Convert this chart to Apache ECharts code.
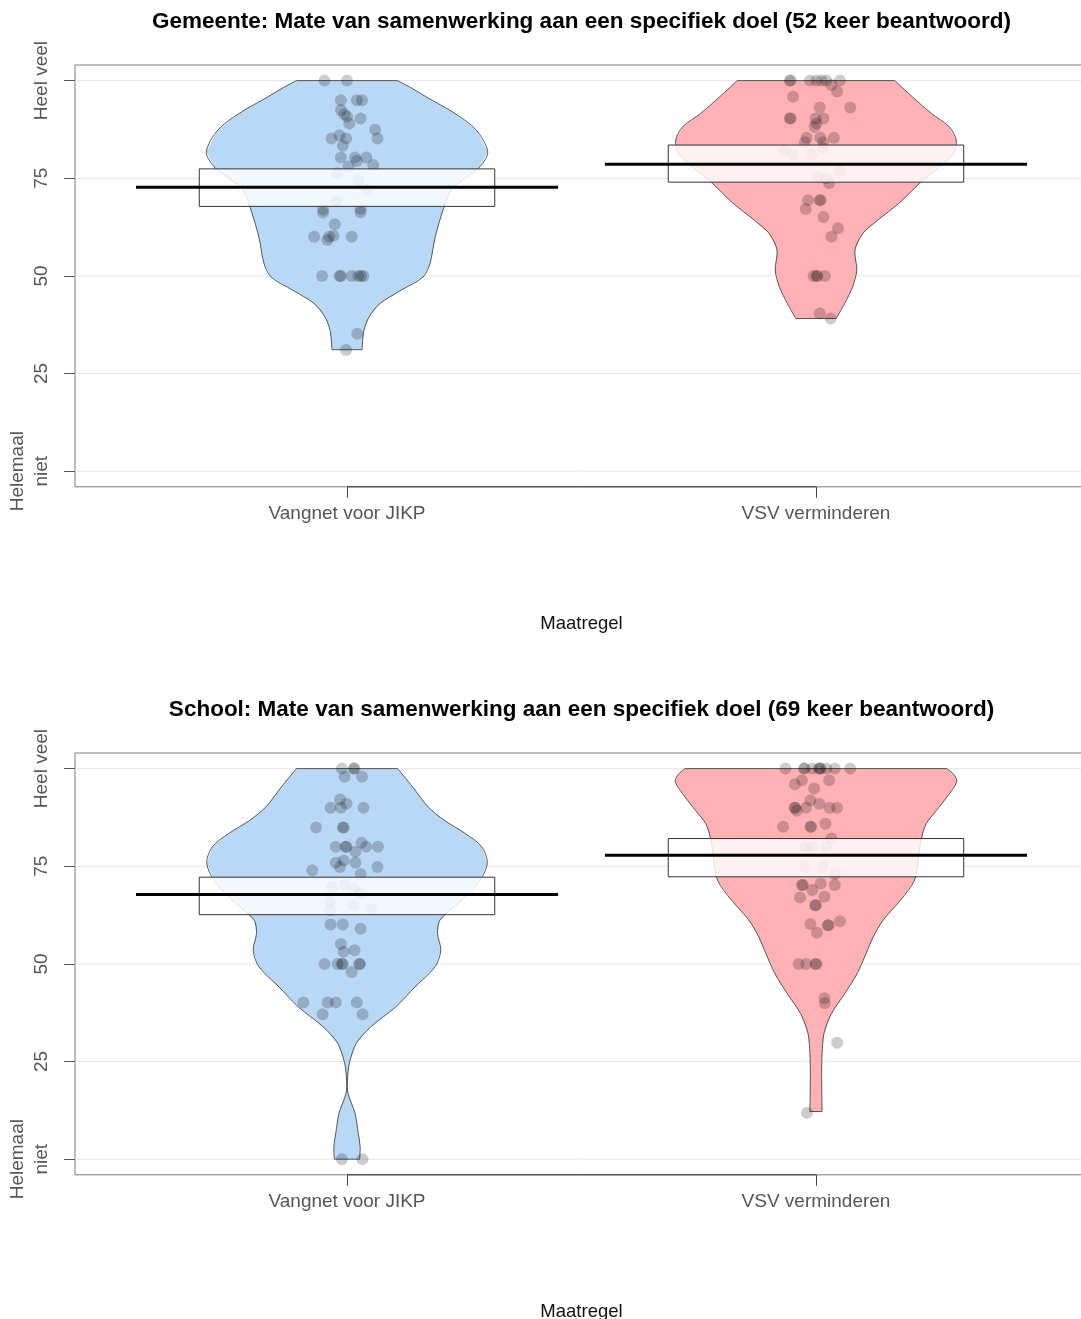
<!DOCTYPE html>
<html><head><meta charset="utf-8">
<script src="https://cdn.jsdelivr.net/npm/echarts@6/dist/echarts.min.js"></script>
<style>html,body{margin:0;padding:0;overflow:hidden;background:#fff}#c{width:1090px;height:1319px}</style>
</head><body><div id="c"></div>
<script>
// ---------- data ----------
const categories = ['Vangnet voor JIKP', 'VSV verminderen'];
const yTickValues = [0, 25, 50, 75, 100];
const yTickLabels = ['Helemaal\nniet', '25', '50', '75', 'Heel veel'];
const panelTitles = [
  'Gemeente: Mate van samenwerking aan een specifiek doel (52 keer beantwoord)',
  'School: Mate van samenwerking aan een specifiek doel (69 keer beantwoord)'
];
const xAxisTitle = 'Maatregel';

// Gemeente panel
const gemMeans = [72.7, 78.6];
const gemHdiLow = [67.8, 74.0];
const gemHdiHigh = [77.4, 83.5];
const gemVangnetLevels = [100, 98, 95.9, 91.6, 87.4, 81.8, 78, 75, 72, 67.7, 60, 53.2, 49.7, 46.3, 42.9, 39.5, 36, 31.1];
const gemVangnetWidths = [0.108, 0.139, 0.168, 0.230, 0.275, 0.300, 0.284, 0.252, 0.222, 0.207, 0.188, 0.177, 0.162, 0.115, 0.070, 0.047, 0.036, 0.032];
const gemVsvLevels = [100, 95.9, 91.6, 88.2, 84.8, 81.4, 78, 73.7, 68.6, 64.3, 60.9, 56.6, 51.5, 47.2, 42.9, 39.1];
const gemVsvWidths = [0.168, 0.205, 0.246, 0.284, 0.299, 0.294, 0.264, 0.221, 0.177, 0.132, 0.100, 0.083, 0.087, 0.078, 0.061, 0.043];
const gemVangnetPoints = [[0.952,100],[1.0,100],[0.987,95],[1.021,95],[1.032,95],[0.987,92.5],[0.994,91.4],[1.0,90.8],[1.005,89],[1.029,90.3],[1.06,87.4],[1.065,85.2],[0.967,85.2],[0.984,86],[0.998,85.2],[0.991,83.3],[0.987,80.3],[1.017,80.3],[1.021,79.4],[1.041,80.3],[1.056,78.4],[1.003,78],[0.979,76.3],[1.024,74.5],[1.042,72],[0.977,69.2],[0.949,67],[0.949,66.2],[1.029,67.1],[1.029,66.3],[0.974,63.2],[0.93,60],[0.962,60],[0.958,59.2],[0.971,60.3],[1.01,60],[0.947,50],[0.984,50],[0.987,50],[1.01,50],[1.024,50],[1.035,50],[1.03,50],[1.022,35.2],[0.998,31]];
const gemVsvPoints = [[1.944,100],[1.946,100],[1.987,100],[2.001,100],[2.012,100],[2.022,100],[2.051,100],[2.033,98.9],[2.045,97.2],[1.951,95.9],[2.008,93.1],[2.073,93.1],[1.944,90.3],[1.946,90.3],[1.999,90.3],[2.016,90.3],[1.997,88.2],[2.001,89],[1.98,85.4],[2.009,85.4],[2.038,85.4],[1.976,84.2],[2.015,84.2],[1.933,82.2],[1.951,81],[1.99,81],[2.015,82.7],[2.051,76.8],[2.004,75.4],[2.022,75],[2.028,73.7],[1.983,69.4],[2.008,69.4],[2.01,69.4],[1.978,67.1],[2.016,65.1],[2.047,62.2],[2.033,60],[2.001,50],[2.003,50],[1.995,50],[2.019,50],[2.008,40.4],[2.031,39.1]];

// School panel
const schMeans = [67.8, 77.8];
const schHdiLow = [62.6, 72.3];
const schHdiHigh = [72.2, 82.1];
const schVangnetLevels = [100, 95.3, 90.2, 86.8, 83.4, 80, 75.7, 70.6, 65.5, 61.2, 57.8, 53.5, 49.3, 44.1, 39, 33.9, 29.7, 24.6, 20.3, 16.9, 11.8, 6.6, 3.2, 0];
const schVangnetWidths = [0.108, 0.140, 0.173, 0.207, 0.252, 0.287, 0.299, 0.279, 0.237, 0.198, 0.193, 0.200, 0.188, 0.145, 0.104, 0.051, 0.020, 0.005, 0.001, 0.002, 0.017, 0.024, 0.028, 0.027];
const schVsvLevels = [100, 98.5, 96.6, 92.7, 89.3, 85.9, 81.7, 76.6, 71.4, 66.3, 61.2, 56.9, 52.7, 47.6, 42.5, 37.3, 32.2, 27.1, 22, 12.2];
const schVsvWidths = [0.279, 0.294, 0.300, 0.279, 0.257, 0.235, 0.224, 0.218, 0.210, 0.180, 0.143, 0.122, 0.107, 0.088, 0.062, 0.033, 0.017, 0.013, 0.012, 0.013];
const schVangnetPoints = [[0.989,100],[1.014,100],[1.016,100],[0.995,97.9],[1.032,97.9],[0.985,92.1],[0.999,91],[0.965,90],[0.987,90],[1.035,90],[0.934,84.9],[0.991,84.9],[0.993,84.9],[0.976,80],[0.997,80],[0.999,80],[1.031,81],[1.041,80],[1.066,80],[1.018,78.7],[0.976,75.9],[0.993,76.5],[1.018,75.9],[0.985,74.8],[1.065,74.8],[0.926,74],[1.029,73],[0.968,69.7],[0.995,70.2],[1.014,69.3],[1.029,68],[0.964,65.9],[1.014,65],[0.964,63.8],[1.052,64],[0.965,60.1],[0.991,60.1],[1.029,59],[0.987,55.1],[1.016,53.5],[0.993,53.1],[0.952,50],[0.98,50],[0.989,50],[0.991,50],[1.026,50],[1.028,50],[1.01,47.9],[0.907,40.1],[0.959,40.1],[0.976,40.1],[1.021,40.1],[0.948,37.1],[1.033,37.1],[0.989,0],[1.033,0]];
const schVsvPoints = [[1.935,100],[1.974,100],[1.976,100],[1.992,100],[2.006,100],[2.008,100],[2.010,100],[2.022,100],[2.04,100],[2.073,100],[1.970,97],[1.955,96],[2.028,97],[1.996,94.9],[1.988,91.9],[2.007,91],[1.954,90],[1.956,90],[1.959,89.2],[1.979,90],[2.029,90],[2.045,90],[1.930,85.1],[1.988,85.1],[1.990,85.1],[2.020,85.9],[2.033,82.1],[1.977,80],[1.992,80],[2.022,80],[1.977,74.8],[2.014,74.8],[2.04,73],[1.970,70.2],[1.972,70.2],[1.992,68.9],[2.01,70.6],[2.04,70.2],[1.966,67],[2.018,67.2],[1.998,65],[2.0,65],[1.988,60.2],[2.025,59.9],[2.027,59.9],[2.051,60.9],[2.002,58],[1.963,50],[1.979,50],[1.999,50],[2.001,50],[2.018,41.2],[2.019,39.9],[2.045,29.8],[1.981,11.9]];

// ---------- styling / build ----------
const FONT = '"Liberation Sans", Arial, Helvetica, sans-serif';
const beanColors = ['#b8d8f5', '#ffb1b4'];
const X_MIN = 0.42, X_MAX = 2.58, Y_MIN = -4, Y_MAX = 104;
const HDI_HALF = 0.315, MEAN_HALF = 0.45;

const panels = [
  { means: gemMeans, lo: gemHdiLow, hi: gemHdiHigh,
    beans: [[gemVangnetLevels, gemVangnetWidths], [gemVsvLevels, gemVsvWidths]],
    points: [gemVangnetPoints, gemVsvPoints] },
  { means: schMeans, lo: schHdiLow, hi: schHdiHigh,
    beans: [[schVangnetLevels, schVangnetWidths], [schVsvLevels, schVsvWidths]],
    points: [schVangnetPoints, schVsvPoints] }
];

const gridTops = [65, 753];
const gridHeight = 421.8;

const grids = [], xAxes = [], yAxes = [], titles = [], series = [];

panels.forEach((pn, p) => {
  grids.push({ left: 75, top: gridTops[p], width: 1013, height: gridHeight,
    outerBoundsMode: 'none', containLabel: false,
    show: true, borderColor: '#7a7a7a', borderWidth: 1, backgroundColor: 'transparent' });
  titles.push({ text: panelTitles[p], left: 576.5, textAlign: 'center', top: gridTops[p] - 60,
    textStyle: { fontFamily: FONT, fontSize: 22.5, fontWeight: 'bold', color: '#000' } });
  xAxes.push({ gridIndex: p, type: 'value', min: X_MIN, max: X_MAX, position: 'bottom',
    axisLine: { show: false, onZero: false }, splitLine: { show: false },
    axisTick: { show: true, inside: false, length: 11, customValues: [1, 2], lineStyle: { color: '#444' } },
    axisLabel: { customValues: [1, 2], margin: 17, fontFamily: FONT, fontSize: 19, color: '#555',
      formatter: v => categories[Math.round(v) - 1] || '' },
    name: xAxisTitle, nameLocation: 'middle', nameGap: 128,
    nameTextStyle: { fontFamily: FONT, fontSize: 18.5, color: '#111' } });
  yAxes.push({ gridIndex: p, type: 'value', min: Y_MIN, max: Y_MAX, position: 'left',
    axisLine: { show: false, onZero: false }, splitLine: { show: false },
    axisTick: { show: true, inside: false, length: 11, customValues: yTickValues, lineStyle: { color: '#555' } },
    axisLabel: { customValues: yTickValues, rotate: 90, margin: 21, fontFamily: FONT, fontSize: 19,
      color: '#555', lineHeight: 24,
      formatter: v => yTickLabels[yTickValues.indexOf(Math.round(v))] || '' } });

  // gridlines
  series.push({ type: 'custom', xAxisIndex: p, yAxisIndex: p, z: 0, silent: true,
    data: yTickValues.map(v => [1.5, v]),
    renderItem(params, api) {
      const a = api.coord([X_MIN, api.value(1)]), b = api.coord([X_MAX, api.value(1)]);
      return { type: 'line', shape: { x1: a[0], y1: a[1], x2: b[0], y2: b[1] },
        style: { stroke: '#e6e6e6', lineWidth: 1 } };
    } });

  // beans (violins): smooth sides, straight flat ends
  pn.beans.forEach((bean, g) => {
    const center = g + 1, levels = bean[0], widths = bean[1];
    series.push({ type: 'custom', xAxisIndex: p, yAxisIndex: p, z: 1, silent: true,
      data: [[center, 50]],
      renderItem(params, api) {
        const right = levels.map((v, i) => api.coord([center + widths[i], v]));
        const left = levels.map((v, i) => api.coord([center - widths[i], v]));
        const pts = right.concat(left.slice().reverse());
        const edge = { fill: null, stroke: '#555', lineWidth: 1 };
        return { type: 'group', children: [
          { type: 'polygon', shape: { points: pts }, style: { fill: beanColors[g] } },
          { type: 'polyline', shape: { points: right, smooth: 0.3 }, style: edge },
          { type: 'polyline', shape: { points: left, smooth: 0.3 }, style: edge },
          { type: 'line', shape: { x1: left[0][0], y1: left[0][1], x2: right[0][0], y2: right[0][1] }, style: edge },
          { type: 'line', shape: { x1: left[left.length - 1][0], y1: left[left.length - 1][1], x2: right[right.length - 1][0], y2: right[right.length - 1][1] }, style: edge }
        ] };
      } });
  });

  // points
  pn.points.forEach(pts => {
    series.push({ type: 'scatter', xAxisIndex: p, yAxisIndex: p, z: 2, silent: true,
      data: pts, symbolSize: 12, itemStyle: { color: 'rgba(0,0,0,0.25)' } });
  });

  // HDI boxes
  series.push({ type: 'custom', xAxisIndex: p, yAxisIndex: p, z: 3, silent: true,
    data: pn.means.map((m, i) => [i + 1, pn.lo[i], pn.hi[i]]),
    renderItem(params, api) {
      const c = api.value(0);
      const a = api.coord([c - HDI_HALF, api.value(2)]), b = api.coord([c + HDI_HALF, api.value(1)]);
      return { type: 'rect', shape: { x: a[0], y: a[1], width: b[0] - a[0], height: b[1] - a[1] },
        style: { fill: 'rgba(255,255,255,0.82)', stroke: '#333', lineWidth: 1 } };
    } });

  // mean lines
  series.push({ type: 'custom', xAxisIndex: p, yAxisIndex: p, z: 4, silent: true,
    data: pn.means.map((m, i) => [i + 1, m]),
    renderItem(params, api) {
      const c = api.value(0);
      const a = api.coord([c - MEAN_HALF, api.value(1)]), b = api.coord([c + MEAN_HALF, api.value(1)]);
      return { type: 'line', shape: { x1: a[0], y1: a[1], x2: b[0], y2: b[1] },
        style: { stroke: '#000', lineWidth: 3 } };
    } });

  // x axis line between first and last category
  series.push({ type: 'custom', xAxisIndex: p, yAxisIndex: p, z: 5, silent: true, clip: false,
    data: [[1, Y_MIN]],
    renderItem(params, api) {
      const a = api.coord([1, Y_MIN]), b = api.coord([2, Y_MIN]);
      return { type: 'line', shape: { x1: a[0], y1: a[1], x2: b[0], y2: b[1] },
        style: { stroke: '#333', lineWidth: 1 } };
    } });
});

const chart = echarts.init(document.getElementById('c'), null, { renderer: 'canvas' });
chart.setOption({
  animation: false,
  backgroundColor: '#fff',
  title: titles,
  grid: grids,
  xAxis: xAxes,
  yAxis: yAxes,
  series: series
});
</script>
</body></html>
